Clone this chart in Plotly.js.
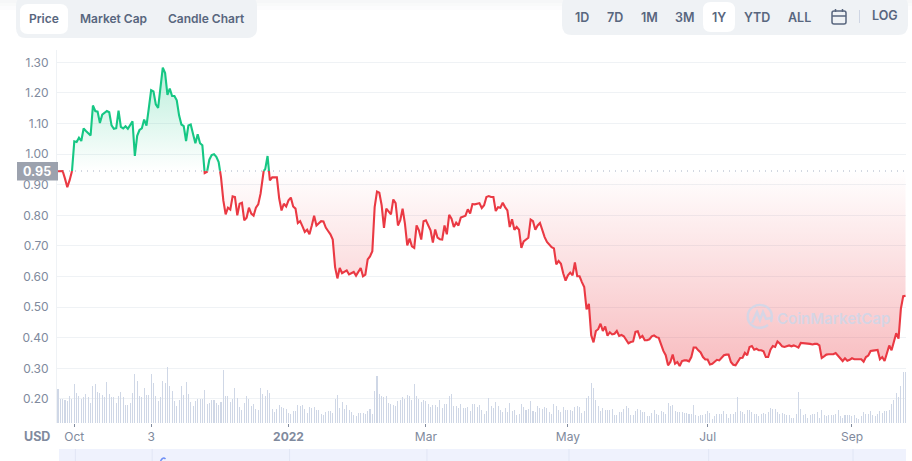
<!DOCTYPE html>
<html><head><meta charset="utf-8">
<script src="https://cdn.plot.ly/plotly-3.0.1.min.js"></script>
<style>html,body{margin:0;padding:0;background:#fff;overflow:hidden}#c{width:912px;height:461px}</style>
</head><body><div id="c"></div>
<script>
const openPrice = 0.945;
const openLabel = '0.95';
const prices = [
.944,.944,.945,.92,.892,.915,.944,1.042,1.04,1.054,1.043,1.084,1.076,1.068,1.061,1.159,1.141,1.139,1.102,1.129,
1.135,1.141,1.137,1.094,1.083,1.085,1.142,1.089,1.084,1.091,1.083,1.095,1.107,.994,1.06,1.079,1.084,1.113,1.093,1.15,
1.209,1.205,1.163,1.151,1.215,1.283,1.265,1.194,1.214,1.19,1.19,1.176,1.127,1.097,1.092,1.043,1.094,1.097,1.066,1.036,
1.065,1.036,1.029,.938,.942,.982,.997,1.0,.991,.974,.925,.849,.803,.825,.819,.862,.86,.80,.838,.841,
.784,.792,.825,.806,.799,.825,.836,.871,.942,.951,.994,.914,.924,.924,.924,.855,.816,.838,.829,.849,
.858,.829,.822,.775,.781,.764,.746,.753,.738,.767,.799,.767,.775,.781,.78,.76,.749,.738,.721,.631,
.594,.628,.611,.617,.62,.607,.61,.615,.603,.615,.628,.601,.606,.656,.666,.683,.827,.878,.874,.833,
.759,.822,.814,.803,.852,.84,.767,.784,.822,.773,.702,.724,.699,.694,.767,.751,.721,.781,.784,.767,
.751,.711,.754,.727,.722,.721,.767,.738,.802,.789,.762,.776,.767,.793,.795,.799,.82,.806,.837,.836,
.838,.84,.824,.833,.86,.863,.86,.86,.814,.827,.825,.841,.827,.816,.762,.787,.753,.762,.753,.694,
.715,.722,.727,.786,.781,.753,.767,.775,.751,.729,.713,.704,.696,.692,.64,.651,.642,.61,.587,.604,
.613,.604,.646,.601,.601,.582,.566,.493,.511,.408,.385,.422,.428,.446,.422,.437,.407,.418,.411,.413,
.422,.406,.409,.405,.392,.382,.386,.388,.419,.421,.40,.406,.392,.392,.395,.405,.408,.402,.40,.377,
.357,.343,.31,.321,.345,.315,.321,.308,.324,.326,.326,.323,.337,.368,.368,.359,.352,.337,.329,.329,
.313,.315,.321,.328,.326,.334,.343,.345,.345,.321,.312,.31,.324,.334,.335,.351,.343,.37,.373,.361,
.364,.359,.359,.356,.337,.337,.361,.373,.37,.388,.381,.372,.37,.372,.375,.372,.375,.372,.368,.383,
.383,.382,.381,.38,.378,.38,.38,.375,.334,.339,.345,.346,.346,.346,.35,.342,.334,.324,.333,.325,
.328,.333,.33,.33,.332,.33,.322,.337,.342,.357,.358,.358,.36,.33,.337,.324,.348,.375,.359,.386,
.415,.397,.495,.536,.537];
const volumes = [
102,72,72,70,67,81,72,118,91,80,72,77,88,77,61,112,118,93,91,85,77,124,88,77,77,61,80,94,77,55,55,61,91,148,127,82,77,105,85,85,
148,121,82,65,79,127,121,169,112,97,66,52,68,112,85,124,88,62,52,66,72,72,72,100,58,61,70,70,61,55,64,160,82,82,64,73,106,76,49,40,
61,82,73,52,58,43,40,106,88,80,99,91,43,34,43,55,49,46,43,31,28,37,37,55,52,
55,43,31,49,46,49,40,40,28,25,34,37,37,31,73,85,46,64,43,55,40,34,25,22,31,31,31,28,37,43,28,97,142,88,82,79,82,61,58,55,
52,67,70,79,73,85,82,70,118,82,73,64,70,67,58,49,55,55,49,70,46,58,58,82,88,52,52,46,58,46,46,49,37,58,58,49,55,40,28,37,
76,52,46,64,52,40,34,46,34,61,37,40,25,28,58,49,40,43,67,37,34,52,46,43,49,46,34,28,58,52,40,34,49,40,40,40,37,49,52,49,
31,37,76,82,121,106,70,52,37,
45,40,40,40,43,23,25,34,34,42,52,46,23,23,36,43,39,34,34,20,20,30,38,26,25,37,32,28,61,50,55,37,34,34,32,31,31,28,26,55,
25,21,24,25,28,37,31,13,20,28,28,28,37,28,16,26,28,34,79,37,34,28,40,40,34,28,28,22,28,31,26,34,46,43,43,34,28,31,28,25,
25,16,16,28,94,43,25,28,16,23,28,28,34,16,38,25,22,25,25,25,28,40,22,16,25,25,25,22,25,16,12,22,34,28,28,37,25,22,28,37,
31,37,37,40,58,70,91,79,112,154,154];
const tickDays = [7,40,99,158,219,279,341];
const tickLabels = ['Oct','3','<b>2022</b>','Mar','May','Jul','Sep'];
const priceTicks = [0.2,0.3,0.4,0.5,0.6,0.7,0.8,0.9,1.0,1.1,1.2,1.3];
const tabLabels = ['Price','Market Cap','Candle Chart'];
const rangeLabels = ['1D','7D','1M','3M','1Y','YTD','ALL','LOG'];

const W=912,H=461,ml=57,mr=6,mt=50,mb=38,pw=W-ml-mr,ph=H-mt-mb;
const px=v=>(v-ml)/pw, py=v=>1-(v-mt)/ph;

const X=[],Y=[];
prices.forEach((p,i)=>{
  if(i>0){const q=prices[i-1];
    if((q-openPrice)*(p-openPrice)<0){X.push(i-1+(openPrice-q)/(p-q));Y.push(openPrice);}}
  X.push(i);Y.push(p);
});
const volDays=volumes.map((_,i)=>i);
const base=X.map(()=>openPrice);
const ln={hoverinfo:'skip',showlegend:false};
const traces=[
 {x:X,y:base,mode:'lines',line:{width:0},...ln},
 {x:X,y:Y.map(v=>Math.max(v,openPrice)),mode:'lines',line:{width:0},fill:'tonexty',
  fillgradient:{type:'vertical',start:1.29,stop:openPrice,colorscale:[[0,'rgba(22,199,132,0.30)'],[1,'rgba(22,199,132,0)']]},...ln},
 {x:X,y:base,mode:'lines',line:{width:0},...ln},
 {x:X,y:Y.map(v=>Math.min(v,openPrice)),mode:'lines',line:{width:0},fill:'tonexty',
  fillgradient:{type:'vertical',start:openPrice,stop:0.31,colorscale:[[0,'rgba(234,57,67,0)'],[1,'rgba(234,57,67,0.33)']]},...ln},
 {x:X,y:Y.map(v=>v<=openPrice?v:null),mode:'lines',line:{color:'#ea3943',width:2.1},connectgaps:false,...ln},
 {x:X,y:Y.map(v=>v>=openPrice?v:null),mode:'lines',line:{color:'#16c784',width:2.1},connectgaps:false,...ln},
 {type:'bar',x:volDays,y:volumes,yaxis:'y2',marker:{color:'#cfd7e6',line:{width:0}},width:0.44,...ln}
];

const rr=(x0,y0,x1,y1,r)=>{const a=(x,y)=>px(x)+','+py(y);
 return 'M'+a(x0+r,y0)+' L'+a(x1-r,y0)+' Q'+a(x1,y0)+' '+a(x1,y0+r)+' L'+a(x1,y1-r)+' Q'+a(x1,y1)+' '+a(x1-r,y1)+
 ' L'+a(x0+r,y1)+' Q'+a(x0,y1)+' '+a(x0,y1-r)+' L'+a(x0,y0+r)+' Q'+a(x0,y0)+' '+a(x0+r,y0)+' Z';};
const P={xref:'paper',yref:'paper'};
const box=(x0,y0,x1,y1,r,fill)=>({type:'path',...P,path:rr(x0,y0,x1,y1,r),fillcolor:fill,line:{width:0},layer:'above'});
const rect=(x0,y0,x1,y1,fill,layer)=>({type:'rect',...P,x0:px(x0),x1:px(x1),y0:py(y0),y1:py(y1),fillcolor:fill,line:{width:0},layer:layer||'above'});
const pen=(d,color,w)=>({type:'path',...P,path:d,line:{color:color,width:w},layer:'above'});
const a=(x,y)=>px(x)+','+py(y);
const wm='rgba(200,216,236,0.75)';

const shapes=[
 rect(0,0,W,3,'#f6f7f8'),rect(0,3,W,6,'#f9fafa'),rect(0,6,W,10,'#fcfcfd'),
 box(16,-4,257,38,10,'#eff2f5'),
 box(20,4,68,34,8,'#ffffff'),
 box(562,-4,908,35,10,'#eff2f5'),
 box(703,2,735,32,8,'#ffffff'),
 {type:'line',...P,x0:px(859.5),x1:px(859.5),y0:py(10),y1:py(23),line:{color:'#cfd6e4',width:1},layer:'above'},
 pen(rr(832,11,846,24,2),'#58667e',1.5),
 pen('M'+a(832,16)+' L'+a(846,16),'#58667e',1.5),
 pen('M'+a(835.5,9)+' L'+a(835.5,12),'#58667e',1.5),
 pen('M'+a(842.5,9)+' L'+a(842.5,12),'#58667e',1.5),
 {type:'line',xref:'paper',yref:'y',x0:0,x1:1,y0:openPrice,y1:openPrice,line:{color:'#a6b0c3',width:1,dash:'1px,5px'},layer:'above'},
 rect(17,162,58,180.5,'#9ca2ae'),
 rect(59,449,906,461,'#eff2fd'),
 ...tickDays.map(d=>({type:'line',xref:'x',yref:'paper',x0:d+0.45,x1:d+0.45,y0:py(449),y1:py(461),line:{color:'#e1e6f5',width:1},layer:'above'})),
 pen('M'+a(160.5,461)+' Q'+a(163,456.5)+' '+a(165.5,459),'#6f8ff5',1.5),
 pen('M'+a(768,325)+' C'+a(764,328)+' '+a(757,329)+' '+a(753,326)+' C'+a(746,322)+' '+a(746,311)+' '+a(753,307)+
     ' C'+a(759,303)+' '+a(768,305)+' '+a(771,312)+' C'+a(772.5,316)+' '+a(772,319)+' '+a(771,322),wm,2.4),
 pen('M'+a(752,323)+' L'+a(757,312)+' L'+a(760,320)+' L'+a(763,312)+' L'+a(766,319)+' L'+a(771,318),wm,2.4)
];

const txt=(t,x,y,size,color,weight)=>({text:t,...P,x:px(x),y:py(y),showarrow:false,xanchor:'center',yanchor:'middle',
  font:{family:'Inter, sans-serif',size:size,color:color,weight:weight||400}});
const tabX=[44,113,206], rangeX=[582,614.5,649,684.5,719,757,799,884.5];
const annotations=[
 ...tabLabels.map((t,i)=>txt(t,tabX[i],19,12,'#58667e',600)),
 ...rangeLabels.map((t,i)=>txt(t,rangeX[i],t==='LOG'?16:17.5,12.5,'#58667e',600)),
 txt(openLabel,37,171.5,12.5,'#ffffff',700),
 txt('USD',37,436,12.5,'#808a9d',700),
 txt('CoinMarketCap',833.5,318,15,wm,600)
];

const layout={
 width:W,height:H,margin:{l:ml,r:mr,t:mt,b:mb,pad:0},
 paper_bgcolor:'#fff',plot_bgcolor:'#fff',showlegend:false,hovermode:false,bargap:0,
 font:{family:'Inter, sans-serif',size:12,color:'#808a9d'},
 xaxis:{type:'linear',range:[-0.43,364.2],tickmode:'array',tickvals:tickDays,ticktext:tickLabels,ticks:'outside',ticklen:3,tickwidth:1,tickcolor:'#808a9d',
   showgrid:false,zeroline:false,showline:false,tickfont:{size:12,color:'#808a9d',family:'Inter, sans-serif'},fixedrange:true},
 yaxis:{range:[0.1215,1.3404],tickmode:'array',tickvals:priceTicks,tickformat:'.2f',gridcolor:'#eff2f5',gridwidth:1,zeroline:false,
   showline:true,linecolor:'#eff2f5',linewidth:1,ticks:'outside',ticklen:5,tickcolor:'rgba(0,0,0,0)',tickfont:{size:12,color:'#808a9d',family:'Inter, sans-serif'},fixedrange:true},
 yaxis2:{overlaying:'y',range:[0,1119],visible:false,fixedrange:true},
 shapes:shapes,annotations:annotations
};
Plotly.newPlot('c',traces,layout,{displayModeBar:false,staticPlot:true});
</script></body></html>
